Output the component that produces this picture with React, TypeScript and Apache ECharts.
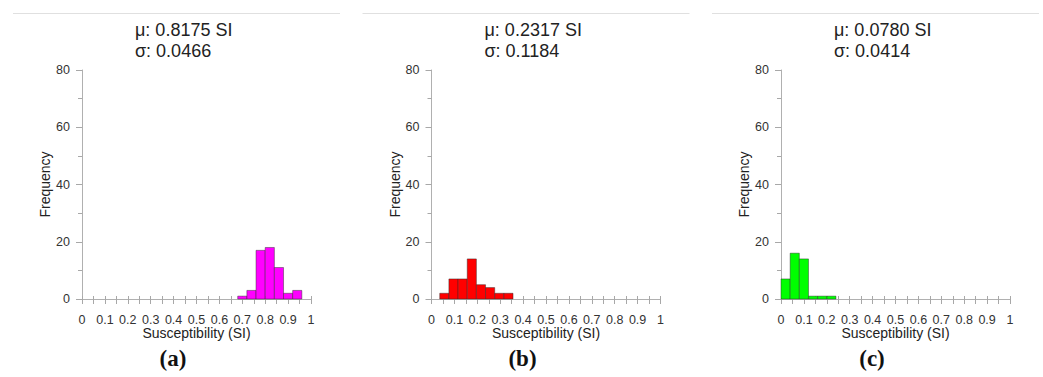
import React, { useEffect, useRef } from "react";
import * as echarts from "echarts";

const panelLabels = ["(a)", "(b)", "(c)"];
const meanLabels = ["μ: 0.8175 SI", "μ: 0.2317 SI", "μ: 0.0780 SI"];
const sdLabels = ["σ: 0.0466", "σ: 0.1184", "σ: 0.0414"];
const colors = ["#ff00ff", "#ff0000", "#00ff00"];

const edgesA = [0.68, 0.72, 0.76, 0.8, 0.84, 0.88, 0.92, 0.96];
const countsA = [1, 3, 17, 18, 11, 2, 3];
const edgesB = [0.036, 0.076, 0.116, 0.156, 0.196, 0.236, 0.276, 0.316, 0.356];
const countsB = [2, 7, 7, 14, 5, 4, 2, 2];
const edgesC = [0.0, 0.04, 0.08, 0.12, 0.16, 0.2, 0.24];
const countsC = [7, 16, 14, 1, 1, 1];

const xTicks = [0, 0.1, 0.2, 0.3, 0.4, 0.5, 0.6, 0.7, 0.8, 0.9, 1];
const yTicks = [0, 20, 40, 60, 80];

const allEdges = [edgesA, edgesB, edgesC];
const allCounts = [countsA, countsB, countsC];

const FONT = "Liberation Sans, Arial, sans-serif";
const LEFTS = [82, 431.5, 781];
const PANEL_W = 349.5;

export default function App() {
  const ref = useRef<HTMLDivElement>(null);
  useEffect(() => {
    if (!ref.current) return;
    const chart = echarts.init(ref.current, null, { renderer: "svg" });
    const grids: any[] = [];
    const xAxes: any[] = [];
    const yAxes: any[] = [];
    const series: any[] = [];
    const titles: any[] = [];
    const graphics: any[] = [];
    for (let i = 0; i < 3; i++) {
      grids.push({ left: LEFTS[i], top: 70, width: 229, height: 229 });
      xAxes.push({
        type: "value",
        gridIndex: i,
        min: xTicks[0],
        max: xTicks[xTicks.length - 1],
        interval: 0.1,
        name: "Susceptibility (SI)",
        nameLocation: "middle",
        nameGap: 27,
        nameMoveOverlap: false,
        nameTextStyle: { fontFamily: FONT, fontSize: 14, color: "#222" },
        axisLine: { show: true, lineStyle: { color: "#b0b0b0", width: 1 } },
        axisTick: { show: true, length: 5, lineStyle: { color: "#a8a8a8" } },
        minorTick: { show: true, splitNumber: 2, length: 5, lineStyle: { color: "#a8a8a8" } },
        splitLine: { show: false },
        axisLabel: {
          fontFamily: FONT,
          fontSize: 12.5,
          color: "#333",
          margin: 14,
          formatter: (v: number) => String(Math.round(v * 10) / 10),
        },
      });
      xAxes.push({
        type: "value",
        gridIndex: i,
        min: xTicks[0],
        max: xTicks[xTicks.length - 1],
        interval: 0.1,
        position: "bottom",
        axisLine: { show: false },
        axisTick: { show: true, inside: true, length: 3, lineStyle: { color: "#a8a8a8" } },
        minorTick: { show: true, splitNumber: 2, length: 3, lineStyle: { color: "#a8a8a8" } },
        splitLine: { show: false },
        axisLabel: { show: false },
      });
      yAxes.push({
        type: "value",
        gridIndex: i,
        min: yTicks[0],
        max: yTicks[yTicks.length - 1],
        interval: 20,
        name: "Frequency",
        nameLocation: "middle",
        nameGap: 30,
        nameMoveOverlap: false,
        nameTextStyle: { fontFamily: FONT, fontSize: 14, color: "#222" },
        axisLine: { show: true, lineStyle: { color: "#b0b0b0", width: 1 } },
        axisTick: { show: true, length: 6, lineStyle: { color: "#a8a8a8" } },
        minorTick: { show: true, splitNumber: 2, length: 4, lineStyle: { color: "#a8a8a8" } },
        splitLine: { show: false },
        axisLabel: { fontFamily: FONT, fontSize: 12.5, color: "#333", margin: 12 },
      });
      const edges = allEdges[i];
      const counts = allCounts[i];
      const data = counts.map((c, k) => [edges[k], edges[k + 1], c]);
      const color = colors[i];
      series.push({
        type: "custom",
        xAxisIndex: i * 2,
        yAxisIndex: i,
        data,
        encode: { x: [0, 1], y: 2 },
        renderItem: (params: any, api: any) => {
          const p0 = api.coord([api.value(0), api.value(2)]);
          const p1 = api.coord([api.value(1), 0]);
          return {
            type: "rect",
            shape: { x: p0[0], y: p0[1], width: p1[0] - p0[0], height: p1[1] - p0[1] },
            style: { fill: color, stroke: "rgba(40,40,40,0.75)", lineWidth: 0.6 },
          };
        },
      });
      const off = i * PANEL_W;
      titles.push({
        text: meanLabels[i] + "\n" + sdLabels[i],
        left: 135 + off,
        top: 19,
        padding: 0,
        textStyle: {
          fontFamily: FONT,
          fontSize: 18,
          fontWeight: "normal",
          color: "#222",
          lineHeight: 21,
        },
      });
      graphics.push({
        type: "line",
        shape: { x1: 13 + off, y1: 13.5, x2: 340 + off, y2: 13.5 },
        style: { stroke: "#e0e0e0", lineWidth: 1 },
      });
      graphics.push({
        type: "text",
        x: 173 + off,
        y: 358,
        style: {
          text: panelLabels[i],
          fontFamily: "Liberation Serif, serif",
          fontSize: 23,
          fontWeight: "bold",
          fill: "#111",
          align: "center",
          verticalAlign: "middle",
        },
      });
    }
    chart.setOption({
      animation: false,
      backgroundColor: "#ffffff",
      title: titles,
      grid: grids,
      xAxis: xAxes,
      yAxis: yAxes,
      series,
      graphic: graphics,
    });
    return () => chart.dispose();
  }, []);
  return (
    <div
      ref={ref}
      style={{ position: "fixed", left: 0, top: 0, width: 1043, height: 377 }}
    />
  );
}
